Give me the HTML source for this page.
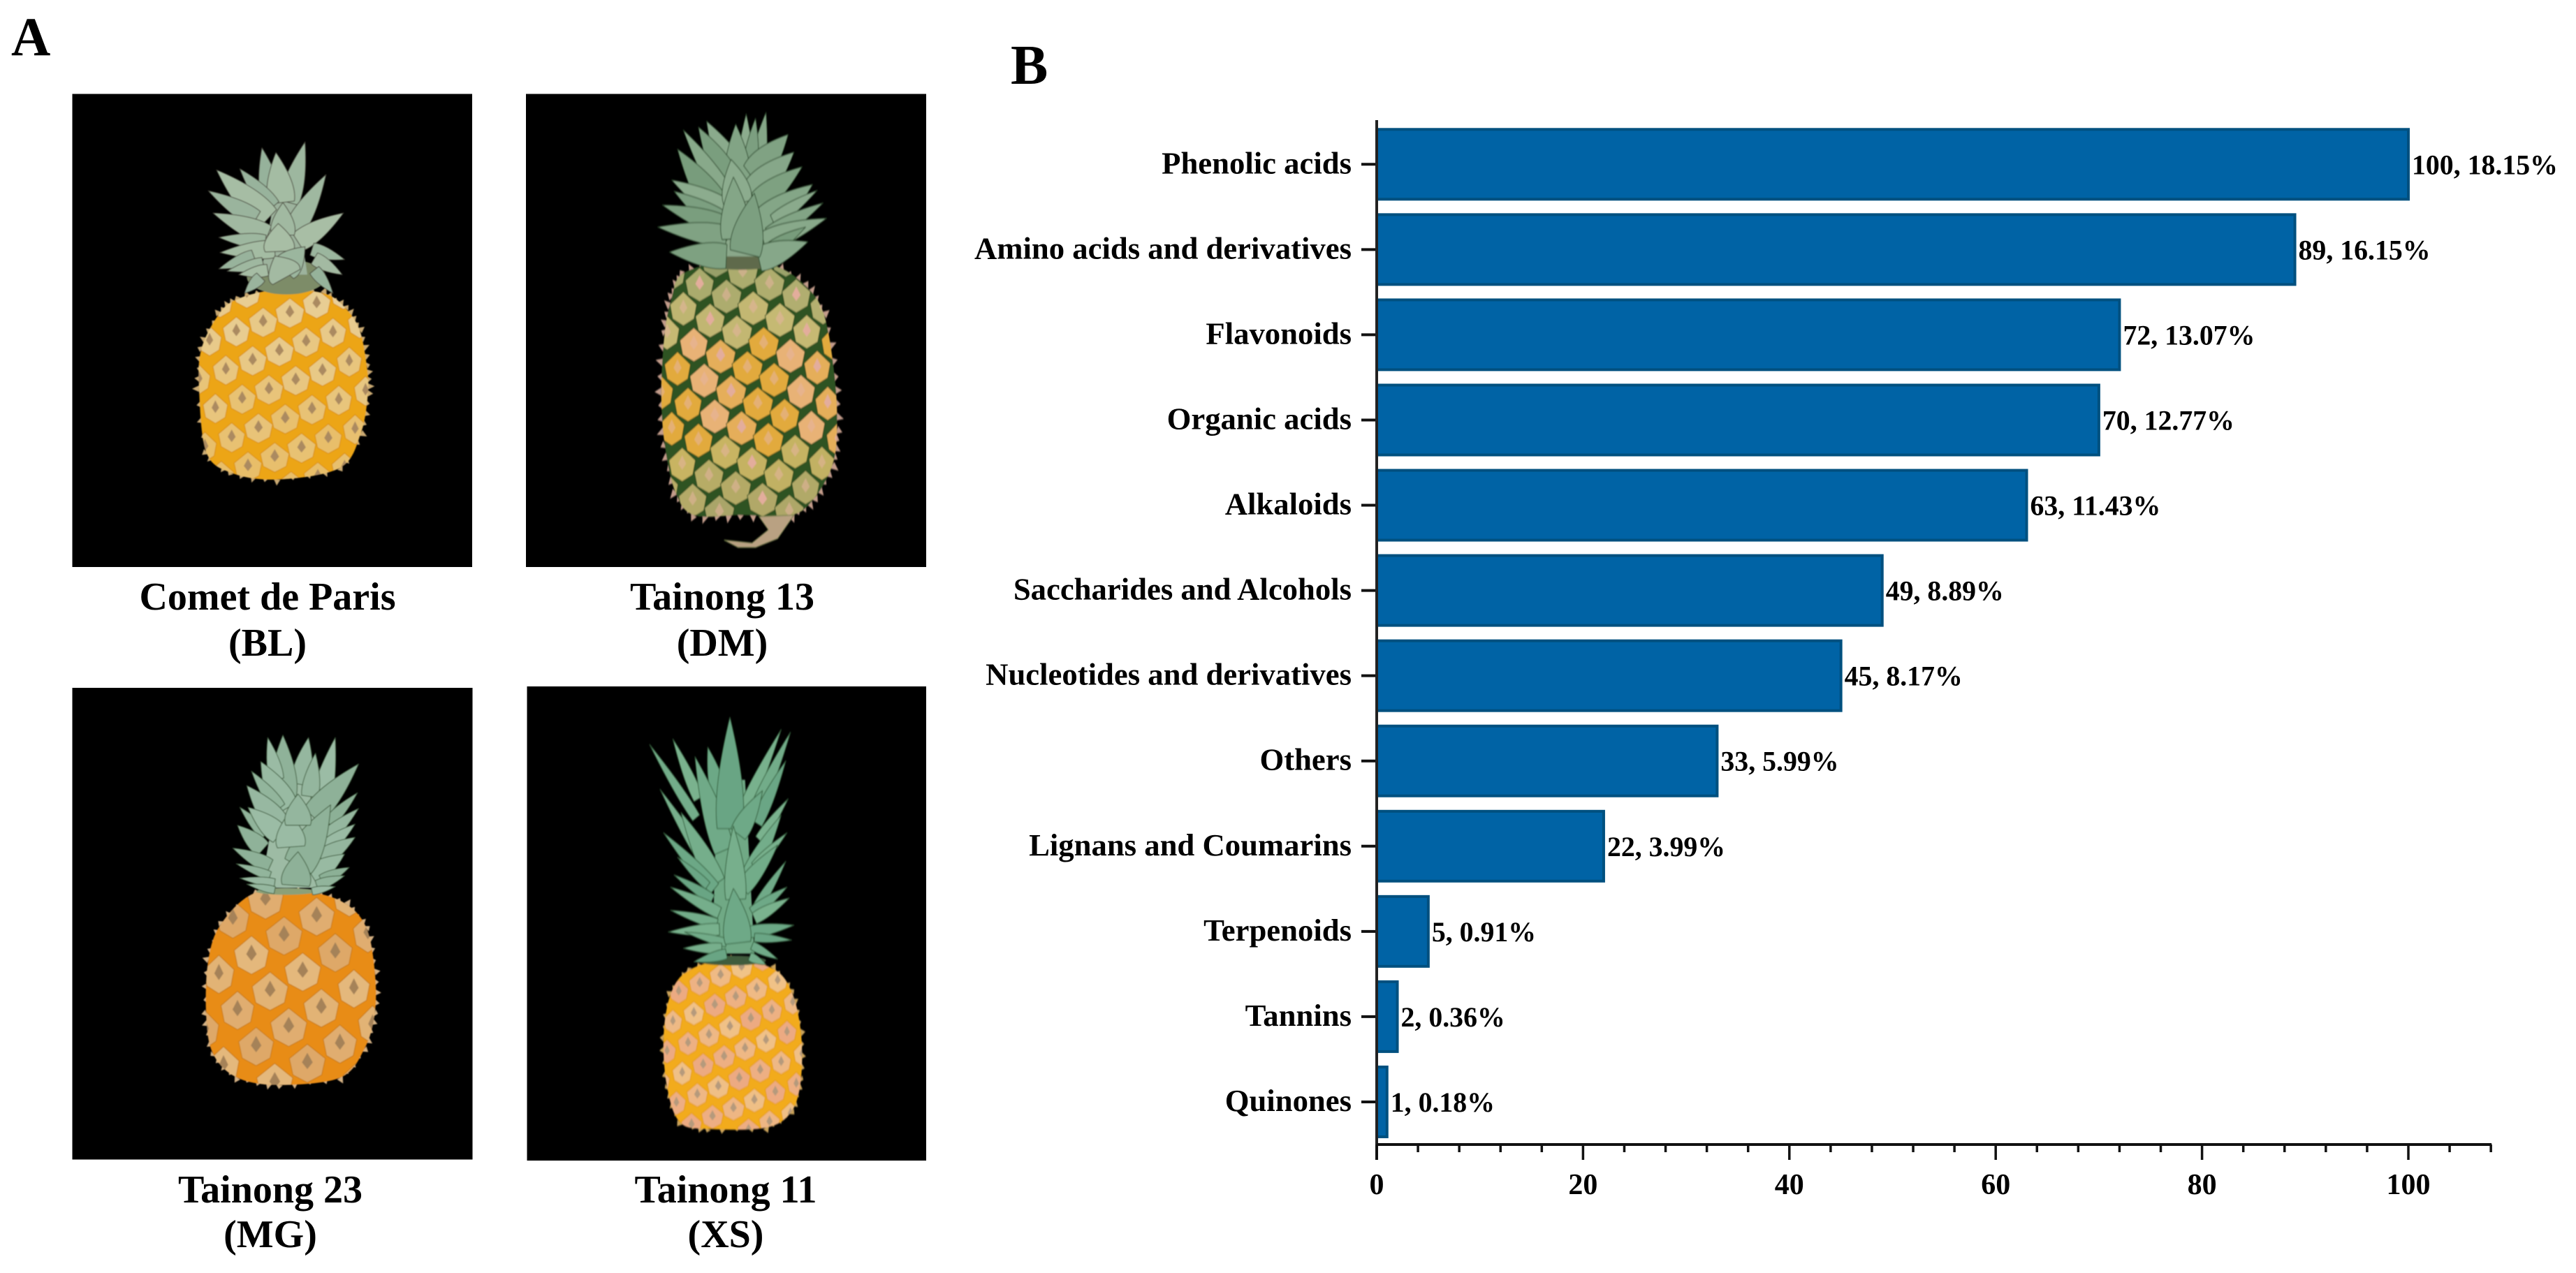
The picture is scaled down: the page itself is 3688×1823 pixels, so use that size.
<!DOCTYPE html>
<html lang="en">
<head>
<meta charset="utf-8">
<title>Pineapple cultivars and metabolite classes</title>
<style>
html,body{margin:0;padding:0;background:#fff;width:3688px;height:1823px;overflow:hidden}
svg{display:block}
text{font-family:"Liberation Serif",serif;font-weight:bold;fill:#000}
</style>
</head>
<body>
<svg id="figure" xmlns="http://www.w3.org/2000/svg" width="3688" height="1823" viewBox="0 0 3688 1823">
  <defs>
    <filter id="soft" x="-5%" y="-5%" width="110%" height="110%"><feGaussianBlur stdDeviation="2.4"/></filter>
  </defs>
  <rect x="0" y="0" width="3688" height="1823" fill="#fff"/>
  <text x="16" y="79" font-size="78">A</text>
  <text x="1447" y="120" font-size="80">B</text>

  <rect x="103.5" y="134.5" width="572.5" height="677.5" fill="#000"/>
  <rect x="753" y="134.5" width="573" height="677.5" fill="#000"/>
  <rect x="103.5" y="985" width="573" height="675.5" fill="#000"/>
  <rect x="754.5" y="983" width="571.5" height="679" fill="#000"/>

  <g id="pineapples"></g>

  <g text-anchor="middle" font-size="56">
    <text x="383" y="873">Comet de Paris</text>
    <text x="383" y="939">(BL)</text>
    <text x="1034" y="873">Tainong 13</text>
    <text x="1034" y="939">(DM)</text>
    <text x="387" y="1722">Tainong 23</text>
    <text x="387" y="1786">(MG)</text>
    <text x="1039" y="1722">Tainong 11</text>
    <text x="1039" y="1786">(XS)</text>
  </g>

  <g id="chart"></g>
</svg>

<script>
// ---- chart data ----
const categories = ["Phenolic acids","Amino acids and derivatives","Flavonoids","Organic acids","Alkaloids","Saccharides and Alcohols","Nucleotides and derivatives","Others","Lignans and Coumarins","Terpenoids","Tannins","Quinones"];
const counts = [100,89,72,70,63,49,45,33,22,5,2,1];
const percents = ["18.15%","16.15%","13.07%","12.77%","11.43%","8.89%","8.17%","5.99%","3.99%","0.91%","0.36%","0.18%"];
const majorTicks = [0,20,40,60,80,100];
const minorTicks = [4,8,12,16,24,28,32,36,44,48,52,56,64,68,72,76,84,88,92,96,104,108];
const axisMax = 108;

const NS = "http://www.w3.org/2000/svg";
function make(parent, tag, attrs, name, content) {
  const el = document.createElementNS(NS, tag);
  for (const k in attrs) { el.setAttribute(k, attrs[k]); }
  
  
  if (content !== undefined) { el.textContent = content; }
  parent.appendChild(el);
  return el;
}
function slug(s) { return s.toLowerCase().replace(/[^a-z0-9]+/g, '-'); }

// ---- axis functions ----
const plotLeft = 1971, unitWidth = 14.77, firstRow = 235.3, rowStep = 122.06, barHeight = 100, axisY = 1639;
function xScale(v) { return plotLeft + v * unitWidth; }
function yScale(i) { return firstRow + i * rowStep; }

(function drawChart() {
  const chart = document.getElementById('chart');
  categories.forEach(function (cat, i) {
    const y = yScale(i);
    make(chart, 'rect', {x: xScale(0), y: y - barHeight / 2, width: xScale(counts[i]) - xScale(0), height: barHeight, fill: '#0063a5', stroke: '#00507f', 'stroke-width': 4}, 'bar-' + slug(cat));
    make(chart, 'line', {x1: xScale(0) - 22, x2: xScale(0), y1: y, y2: y, stroke: '#111', 'stroke-width': 4}, 'y-tick-' + slug(cat));
    make(chart, 'text', {x: 1935, y: y + 13, 'text-anchor': 'end', 'font-size': 44.7}, 'y-label-' + slug(cat), cat);
    make(chart, 'text', {x: xScale(counts[i]) + 5, y: y + 14, 'font-size': 39.8}, 'value-label-' + slug(cat), counts[i] + ', ' + percents[i]);
  });
  make(chart, 'line', {x1: xScale(0), x2: xScale(0), y1: 172, y2: 1661, stroke: '#222', 'stroke-width': 4}, 'y-axis-line');
  make(chart, 'line', {x1: xScale(0), x2: xScale(axisMax) + 1, y1: axisY, y2: axisY, stroke: '#111', 'stroke-width': 4}, 'x-axis-line');
  majorTicks.forEach(function (t) {
    make(chart, 'line', {x1: xScale(t), x2: xScale(t), y1: axisY, y2: 1661, stroke: '#111', 'stroke-width': 3.5}, 'x-major-tick-' + t);
    make(chart, 'text', {x: xScale(t), y: 1710, 'text-anchor': 'middle', 'font-size': 42}, 'x-tick-label-' + t, String(t));
  });
  minorTicks.forEach(function (t) {
    make(chart, 'line', {x1: xScale(t), x2: xScale(t), y1: axisY, y2: 1650, stroke: '#111', 'stroke-width': 3.5}, 'x-minor-tick-' + t);
  });
})();

// ---- photo stand-ins: coordinates ----
function smooth(p) {
  const n = p.length;
  let d = 'M' + p[0][0] + ' ' + p[0][1];
  for (let i = 0; i < n; i++) {
    const a = p[(i - 1 + n) % n], b = p[i], c = p[(i + 1) % n], e = p[(i + 2) % n];
    d += 'C' + (b[0] + (c[0] - a[0]) / 6).toFixed(1) + ' ' + (b[1] + (c[1] - a[1]) / 6).toFixed(1) + ' ' +
         (c[0] - (e[0] - b[0]) / 6).toFixed(1) + ' ' + (c[1] - (e[1] - b[1]) / 6).toFixed(1) + ' ' + c[0] + ' ' + c[1];
  }
  return d + 'Z';
}
function mix(c1, c2, t) {
  t = Math.max(0, Math.min(1, t));
  const r = [0, 1, 2].map(function (k) { return Math.round(c1[k] + (c2[k] - c1[k]) * t); });
  return 'rgb(' + r.join(',') + ')';
}
function leaf(parent, L, col, edge, idx, widen) {
  const tx = L[0], ty = L[1], bx = L[2], by = L[3], w = L[4] * widen;
  const dx = tx - bx, dy = ty - by, len = Math.hypot(dx, dy), nx = -dy / len, ny = dx / len;
  const mx = bx + dx * 0.35, my = by + dy * 0.35;
  const d = 'M' + (bx + nx * w * .45) + ' ' + (by + ny * w * .45) +
    'Q' + (mx + nx * w * .62) + ' ' + (my + ny * w * .62) + ' ' + tx + ' ' + ty +
    'Q' + (mx - nx * w * .62) + ' ' + (my - ny * w * .62) + ' ' + (bx - nx * w * .45) + ' ' + (by - ny * w * .45) + 'Z';
  const shade = (idx * 37 % 11) / 10;
  make(parent, 'path', {d: d, fill: mix(col[0], col[1], shade), stroke: edge, 'stroke-width': 3, 'stroke-linejoin': 'round'}, 'crown-leaf');
}
function drawPineapple(cfg, index) {
  const root = document.getElementById('pineapples');
  const g = make(root, 'g', {transform: 'translate(' + cfg.ox + ' ' + cfg.oy + ') scale(' + (1 / cfg.sx) + ' ' + (1 / cfg.sy) + ')', filter: 'url(#soft)'}, 'pineapple-' + cfg.name);
  const outline = smooth(cfg.body);
  const fringe = make(g, 'g', {}, 'fruit-fringe');
  const P = cfg.body, n = P.length;
  for (let i = 0; i < n; i++) {
    const a = P[i], b = P[(i + 1) % n];
    for (let s = 0; s < 4; s++) {
      const t = s / 4, x = a[0] + (b[0] - a[0]) * t, y = a[1] + (b[1] - a[1]) * t;
      const vx = x - cfg.cx, vy = y - cfg.cy, m = Math.hypot(vx, vy), ux = vx / m, uy = vy / m;
      const reach = cfg.spike * (0.7 + ((i * 7 + s * 3) % 5) / 6);
      const pts = [[x - uy * 14, y + ux * 14], [x + ux * reach, y + uy * reach], [x + uy * 14, y - ux * 14]];
      make(fringe, 'polygon', {points: pts.map(function (q) { return q.join(','); }).join(' '), fill: cfg.spikeColor}, 'fruit-spike');
    }
  }
  make(g, 'path', {d: outline, fill: cfg.base}, 'fruit-body');
  const clipId = 'clip' + index;
  const defs = make(g, 'clipPath', {id: clipId}, 'fruit-clip');
  make(defs, 'path', {d: outline}, 'fruit-clip-shape');
  const eyes = make(g, 'g', {'clip-path': 'url(#' + clipId + ')'}, 'fruit-eyes');
  for (let i = -14; i <= 14; i++) {
    for (let j = -14; j <= 14; j++) {
      const x = cfg.e0[0] + i * cfg.a[0] + j * cfg.b[0], y = cfg.e0[1] + i * cfg.a[1] + j * cfg.b[1];
      if (x < cfg.cx - cfg.rx || x > cfg.cx + cfg.rx || y < cfg.cy - cfg.ry || y > cfg.cy + cfg.ry) { continue; }
      const edgeF = 1 - 0.25 * Math.pow(Math.abs(x - cfg.cx) / cfg.rx, 2);
      const w = cfg.w * edgeF, h = cfg.h;
      const pts = [[x, y - h], [x + w, y - h * .25], [x + w * .8, y + h * .6], [x, y + h], [x - w * .8, y + h * .6], [x - w, y - h * .25]];
      const tone = (y - (cfg.cy - cfg.ry)) / (2 * cfg.ry);
      const sel = ((i * 3 + j * 5) % 4 + 4) % 4;
      make(eyes, 'polygon', {points: pts.map(function (q) { return q[0].toFixed(1) + ',' + q[1].toFixed(1); }).join(' '), fill: cfg.eyeColor(tone, sel), stroke: cfg.eyeEdge, 'stroke-width': 3}, 'fruit-eye');
      if (cfg.pip) {
        const p2 = [[x, y - h * .55], [x + w * .3, y - h * .05], [x, y + h * .3], [x - w * .3, y - h * .05]];
        make(eyes, 'polygon', {points: p2.map(function (q) { return q[0].toFixed(1) + ',' + q[1].toFixed(1); }).join(' '), fill: cfg.pip(tone, sel)}, 'fruit-eye-pip');
      }
    }
  }
  if (cfg.tail) {
    make(g, 'path', {d: cfg.tail, fill: '#b9a182', stroke: '#6d7a45', 'stroke-width': 3}, 'dried-stem');
  }
  if (cfg.neck) {
    make(g, 'ellipse', {cx: cfg.neck[0], cy: cfg.neck[1], rx: cfg.neck[2], ry: cfg.neck[3], fill: cfg.neck[4]}, 'crown-base');
  }
  const crown = make(g, 'g', {}, 'crown');
  make(crown, 'polygon', {points: cfg.core.map(function (q) { return q.join(','); }).join(' '), fill: cfg.coreColor}, 'crown-core');
  cfg.leaves.forEach(function (L, k) { leaf(crown, L, cfg.leafColor, cfg.leafEdge, k, cfg.widen); });
}

const sets = [
{ name: 'comet-de-paris', ox: 250, oy: 180, sx: 3, sy: 3, cx: 465, cy: 1130, rx: 380, ry: 430, spike: 22, widen: 1.35,
  spikeColor: '#c9a972', base: '#eca518', eyeEdge: '#d98f12', e0: [450, 970], a: [115, -40], b: [70, 125], w: 62, h: 64,
  eyeColor: function (t, s) { return mix([232, 208, 155], [232, 190, 105], t + s * .08); },
  pip: function () { return '#ab8a60'; },
  body: [[270,745],[440,705],[640,720],[735,785],[795,880],[825,1030],[830,1150],[800,1320],[710,1470],[440,1520],[240,1490],[135,1400],[105,1130],[115,960],[190,810]],
  neck: [480, 650, 170, 75, '#7d8c68'],
  core: [[430,300],[520,300],[570,640],[370,640]], coreColor: '#9db39d',
  leafColor: [[150,178,155],[168,190,165]], leafEdge: '#4a4a3e',
  leaves: [[375,95,420,330,70],[560,70,490,330,70],[435,115,460,330,90],[280,185,420,350,60],[650,210,510,450,70],[180,190,400,400,90],[145,280,350,400,60],[165,375,400,470,70],[725,375,530,500,70],[730,575,590,530,45],[720,640,600,570,45],[680,720,600,620,40],[190,480,390,500,50],[195,545,430,530,60],[190,615,340,560,45],[225,625,380,590,40],[275,640,400,620,40],[300,720,370,650,40],[465,330,465,470,80],[445,420,450,540,100],[560,520,470,620,90],[430,560,480,650,110]] },
{ name: 'tainong-13', ox: 900, oy: 140, sx: 3, sy: 2.376, cx: 515, cy: 990, rx: 390, ry: 440, spike: 24, widen: 1.3,
  spikeColor: '#c29b8a', base: '#2e5220', eyeEdge: '#27481c', e0: [510, 920], a: [115, 40], b: [-70, 82], w: 66, h: 58, tail: 'M560 1425L710 1420L640 1500L545 1530L470 1530L410 1505L530 1515L600 1470Z',
  eyeColor: function (t, s) {
    if (t < .3) { return mix([150,160,105], [198,185,115], t / .3 + s * .1); }
    if (t < .72) { return mix([226,170,62], [232,178,118], (s % 3) / 2); }
    return mix([210,185,95], [170,165,105], (t - .72) / .28 + s * .08);
  },
  pip: function (t, s) { return s === 1 ? '#e3ad9c' : 'rgba(230,180,160,.55)'; },
  body: [[230,600],[400,560],[620,570],[760,640],[840,740],[885,950],[895,1130],[875,1250],[800,1360],[700,1420],[480,1420],[280,1420],[200,1340],[155,1180],[140,1000],[155,800],[185,680]],
  neck: [480, 555, 190, 30, '#5e6a4c'],
  core: [[400,150],[560,150],[620,540],[340,540]], coreColor: '#8aa88a',
  leafColor: [[140,172,142],[120,156,124]], leafEdge: '#2c4a2c',
  leaves: [[505,55,500,300,60],[590,50,540,300,60],[545,70,520,250,50],[335,80,480,300,90],[460,90,470,300,90],[300,100,440,300,80],[235,110,420,340,60],[685,125,530,270,90],[210,175,400,400,90],[710,185,530,330,90],[745,235,550,360,70],[185,280,440,400,70],[790,295,560,440,90],[195,318,440,450,70],[810,315,620,420,40],[835,358,600,470,50],[145,365,420,440,60],[850,410,580,490,60],[125,440,420,470,60],[760,440,600,520,40],[770,490,560,550,70],[175,525,420,540,70],[440,210,470,360,100],[450,270,460,480,100],[540,325,500,530,110]] },
{ name: 'tainong-23', ox: 260, oy: 1020, sx: 3, sy: 2.904, cx: 468, cy: 1150, rx: 380, ry: 420, spike: 20, widen: 1.3,
  spikeColor: '#d3b083', base: '#e88c16', eyeEdge: '#c97a12', e0: [300, 1010], a: [140, -80], b: [80, 150], w: 78, h: 80,
  eyeColor: function (t, s) { return mix([228,184,124], [222,168,104], (s % 4) / 3); },
  pip: function () { return '#a58259'; },
  body: [[320,750],[560,750],[710,800],[795,900],[830,1080],[830,1250],[785,1400],[680,1520],[420,1550],[240,1520],[135,1420],[105,1250],[115,1030],[170,880]],
  neck: [450, 745, 130, 14, '#8ba078'],
  core: [[430,230],[590,230],[640,730],[340,730]], coreColor: '#9dbba4',
  leafColor: [[155,188,165],[140,176,150]], leafEdge: '#3f5c3e',
  leaves: [[660,105,590,400,70],[545,105,510,300,70],[435,95,440,350,90],[370,105,410,280,50],[575,170,550,350,60],[760,215,560,430,80],[340,205,450,400,90],[300,245,420,400,50],[755,335,630,460,40],[280,305,420,470,80],[250,395,360,510,40],[285,395,420,510,70],[760,400,610,530,50],[240,470,350,570,60],[745,465,610,570,50],[745,520,600,610,60],[220,565,380,640,50],[700,590,560,680,70],[235,630,380,680,30],[720,645,600,700,40],[250,690,400,710,30],[700,680,580,720,35],[660,725,560,745,25],[280,715,400,740,25],[640,385,500,640,110],[460,420,470,560,100],[500,340,500,470,90],[500,580,490,720,100]] },
{ name: 'tainong-11', ox: 880, oy: 1000, sx: 3, sy: 2.57, cx: 505, cy: 1275, rx: 310, ry: 320, spike: 16, widen: 1.35,
  spikeColor: '#c9a25a', base: '#f2ab1a', eyeEdge: '#e69c12', e0: [495, 1210], a: [90, -30], b: [65, 80], w: 48, h: 44,
  eyeColor: function (t, s) { return mix([240,195,135], [236,170,130], (s % 4) / 3 + t * .2); },
  pip: function () { return '#b59a7c'; },
  body: [[320,1000],[500,960],[680,995],[760,1080],[800,1230],[800,1400],[760,1520],[650,1580],[400,1585],[280,1560],[225,1430],[210,1250],[240,1090]],
  neck: [500, 965, 150, 18, '#3f5c3e'],
  core: [[440,300],[560,300],[600,940],[420,940]], coreColor: '#6fa985',
  leafColor: [[122,178,142],[105,165,132]], leafEdge: '#345f3c',
  leaves: [[250,150,360,370,35],[150,170,350,440,30],[400,180,450,360,50],[715,115,540,440,40],[755,125,600,420,40],[735,230,610,460,40],[195,335,400,620,35],[345,215,470,560,70],[495,70,495,480,90],[285,420,440,680,60],[635,340,530,500,60],[745,370,620,520,30],[715,430,570,660,50],[210,495,430,700,40],[740,495,600,620,30],[700,540,550,700,50],[270,585,400,690,25],[510,470,520,740,70],[735,600,610,770,30],[255,650,420,740,30],[240,695,450,790,35],[740,695,590,790,35],[750,735,600,810,35],[240,780,440,830,30],[770,835,580,860,35],[230,860,450,850,35],[300,860,480,900,25],[760,890,600,880,25],[295,920,460,920,30],[700,960,590,910,25],[340,970,480,940,30],[650,980,580,950,25],[510,700,530,900,90]] }
];
sets.forEach(drawPineapple);
</script>
</body>
</html>
